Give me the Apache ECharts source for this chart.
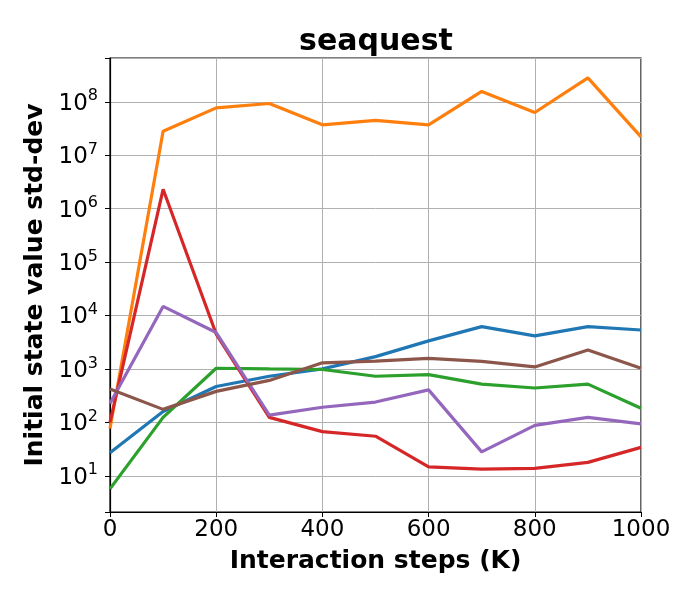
<!DOCTYPE html>
<html>
<head>
<meta charset="utf-8">
<script src="https://cdn.jsdelivr.net/npm/echarts@6/dist/echarts.min.js"></script>
<style>
  html, body { margin: 0; padding: 0; background: #fff; }
  #main { width: 700px; height: 600px; }
</style>
</head>
<body>
<div id="main"></div>
<script>
// x 轴步数 (K)
var steps = [0, 100, 200, 300, 400, 500, 600, 700, 800, 900, 1000];
var xTicks = [0, 200, 400, 600, 800, 1000];

// 各条曲线的数值
var blueVals   = [27, 160, 470, 730, 1000, 1700, 3350, 6200, 4150, 6200, 5350];
var orangeVals = [77, 2.8e7, 7.7e7, 9.3e7, 3.7e7, 4.5e7, 3.7e7, 1.56e8, 6.3e7, 2.8e8, 2.2e7];
var greenVals  = [5.7, 124, 1030, 1000, 975, 730, 780, 520, 440, 520, 184];
var redVals    = [100, 2.3e6, 4500, 124, 67, 55, 14.7, 13.3, 13.8, 17.8, 34];
var purpleVals = [225, 14800, 4800, 137, 192, 240, 405, 28, 88, 124, 94];
var brownVals  = [420, 175, 380, 610, 1300, 1400, 1570, 1380, 1090, 2260, 1030];

var colors = ['#1f77b4', '#ff7f0e', '#2ca02c', '#d62728', '#9467bd', '#8c564b'];
var allVals = [blueVals, orangeVals, greenVals, redVals, purpleVals, brownVals];

function pairs(vals) {
    return steps.map(function (s, i) { return [s, vals[i]]; });
}

var myChart = echarts.init(document.getElementById('main'));

var option = {
    animation: false,
    title: {
        text: 'seaquest',
        left: 371,
        top: 22,
        textAlign: 'center',
        textStyle: { fontFamily: 'DejaVu Sans', fontWeight: 'bold', fontSize: 30, color: '#000' }
    },
    grid: {
        left: 110, right: 59, top: 58, bottom: 88,
        show: true, borderColor: '#000', borderWidth: 1.2
    },
    xAxis: {
        type: 'value',
        min: 0, max: 1000, interval: 200,
        name: 'Interaction steps (K)',
        nameLocation: 'middle',
        nameGap: 37,
        nameTextStyle: { fontFamily: 'DejaVu Sans', fontWeight: 'bold', fontSize: 25, color: '#000' },
        axisLine: { lineStyle: { color: '#000', width: 1.2 } },
        axisTick: { show: true, length: 5, lineStyle: { color: '#000' } },
        axisLabel: {
            margin: 7, fontFamily: 'DejaVu Sans', fontSize: 23, color: '#000',
            formatter: function (v) { return xTicks.indexOf(v) >= 0 ? String(v) : ''; }
        },
        splitLine: { show: true, lineStyle: { color: '#b0b0b0', width: 1 } }
    },
    yAxis: {
        type: 'log',
        logBase: 10,
        min: 2.1, max: 6.6e8,
        name: 'Initial state value std-dev',
        nameLocation: 'middle',
        nameGap: 60,
        nameTextStyle: { fontFamily: 'DejaVu Sans', fontWeight: 'bold', fontSize: 25, color: '#000' },
        axisLine: { lineStyle: { color: '#000', width: 1.2 } },
        axisTick: { show: true, length: 5, lineStyle: { color: '#000' } },
        axisLabel: {
            margin: 12, color: '#000',
            formatter: function (v) {
                var e = Math.log10(v);
                if (Math.abs(e - Math.round(e)) > 1e-6) return '';
                return '{b|10}{s|' + Math.round(e) + '}';
            },
            rich: {
                b: { fontFamily: 'DejaVu Sans', fontSize: 23, color: '#000', verticalAlign: 'bottom' },
                s: { fontFamily: 'DejaVu Sans', fontSize: 16, color: '#000', verticalAlign: 'top', padding: [0, 0, 11, 0] }
            }
        },
        splitLine: { show: true, lineStyle: { color: '#b0b0b0', width: 1 } }
    },
    series: allVals.map(function (vals, i) {
        return {
            type: 'line',
            data: pairs(vals),
            showSymbol: false,
            lineStyle: { color: colors[i], width: 3.2 },
            itemStyle: { color: colors[i] }
        };
    })
};

myChart.setOption(option);
</script>
</body>
</html>
